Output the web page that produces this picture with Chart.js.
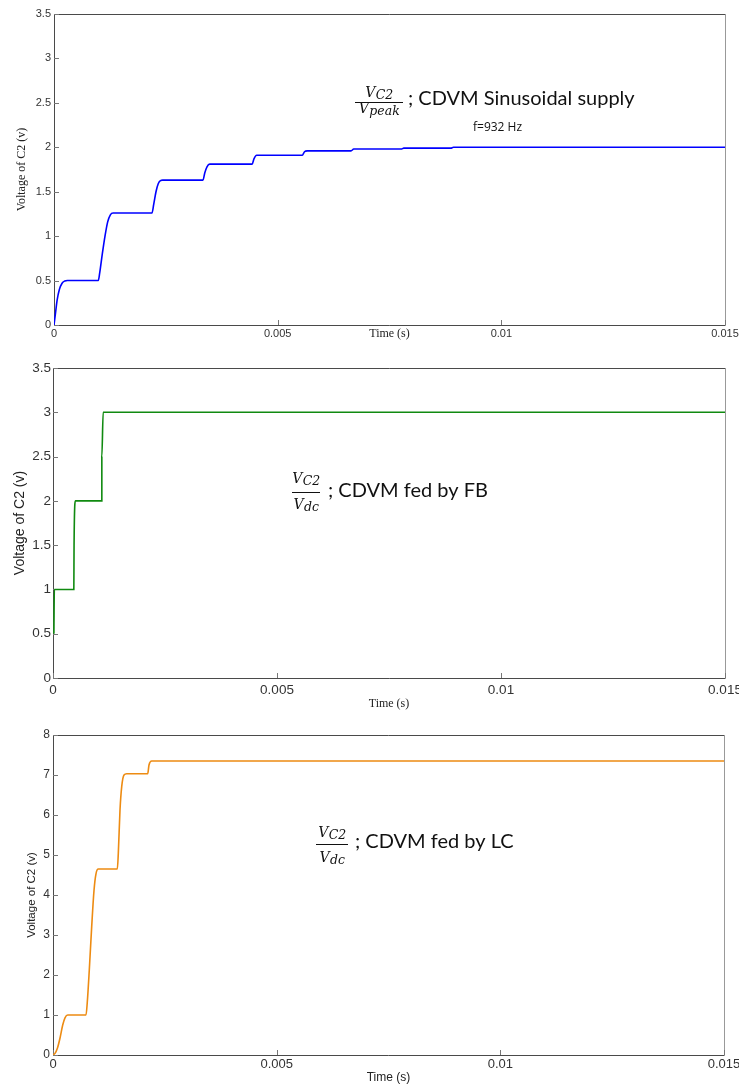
<!DOCTYPE html>
<html>
<head>
<meta charset="utf-8">
<title>CDVM capacitor voltage</title>
<script src="https://cdn.jsdelivr.net/npm/chart.js@4/dist/chart.umd.min.js"></script>
<style>
  body { margin: 0; background: #fff; width: 739px; height: 1085px; overflow: hidden; }
  .panel { position: absolute; left: 0; }
</style>
</head>
<body>
<div class="panel" style="top:0"><canvas id="sineChart" width="739" height="340"></canvas></div>
<div class="panel" style="top:340px"><canvas id="fbChart" width="739" height="372"></canvas></div>
<div class="panel" style="top:712px"><canvas id="lcChart" width="739" height="373"></canvas></div>
<script>
// Shared time axis (seconds)
const xTicks = [0, 0.005, 0.01, 0.015];
const xTickLabels = ['0', '0.005', '0.01', '0.015'];

// Voltage ticks
const yTicksLow = [0, 0.5, 1, 1.5, 2, 2.5, 3, 3.5];
const yTickLabelsLow = ['0', '0.5', '1', '1.5', '2', '2.5', '3', '3.5'];
const yTicksLC = [0, 1, 2, 3, 4, 5, 6, 7, 8];
const yTickLabelsLC = ['0', '1', '2', '3', '4', '5', '6', '7', '8'];

// Sinusoidal supply, f = 932 Hz
const tSine = [0, 0.00003, 0.00007, 0.00012, 0.00018, 0.00024, 0.0003, 0.00099,
  0.00102, 0.00108, 0.00114, 0.0012, 0.00126, 0.00132, 0.00219,
  0.00223, 0.00228, 0.00233, 0.00238, 0.00243, 0.00333,
  0.00337, 0.00342, 0.00348, 0.00443, 0.00447, 0.00453, 0.00555,
  0.0056, 0.00566, 0.00664, 0.0067, 0.00776, 0.00782, 0.00887, 0.00893, 0.015];
const vSine = [0, 0.12, 0.28, 0.4, 0.47, 0.495, 0.5, 0.5,
  0.58, 0.8, 1.0, 1.16, 1.24, 1.26, 1.26,
  1.36, 1.5, 1.59, 1.625, 1.63, 1.63,
  1.71, 1.78, 1.81, 1.81, 1.87, 1.91, 1.91,
  1.95, 1.96, 1.96, 1.98, 1.98, 1.99, 1.99, 2.0, 2.0];

// Fed by full bridge
const tFB = [0.00002, 0.00003, 0.000465, 0.00047, 0.0005, 0.00109, 0.00109, 0.00112, 0.015];
const vFB = [0.5, 1, 1, 1.5, 2, 2, 2.5, 3, 3];

// Fed by LC
const tLC = [0, 0.000045, 0.000096, 0.000156, 0.000217, 0.000268, 0.000329, 0.000738,
  0.000767, 0.000811, 0.000865, 0.000917, 0.000961, 0.001013, 0.001438,
  0.00146, 0.001498, 0.001536, 0.001587, 0.001647, 0.002117,
  0.002146, 0.002206, 0.015];
const vLC = [0, 0.04, 0.16, 0.42, 0.75, 0.93, 1.0, 1.0,
  1.33, 2.12, 3.21, 4.12, 4.53, 4.65, 4.65,
  5.04, 6.13, 6.71, 7.0, 7.03, 7.03,
  7.25, 7.35, 7.35];

const toPoints = (ts, vs) => ts.map((t, i) => ({ x: t, y: vs[i] }));

// Box around the plot plus MATLAB-style inward ticks
const framePlugin = {
  id: 'frame',
  beforeDatasetsDraw(chart) {
    const { ctx, chartArea: a, scales } = chart;
    ctx.save();
    ctx.lineWidth = 1;
    ctx.strokeStyle = '#4a4a4a';
    ctx.beginPath();
    ctx.moveTo(a.right, a.top + 0.5);
    ctx.lineTo(a.left + 0.5, a.top + 0.5);
    ctx.lineTo(a.left + 0.5, a.bottom + 0.5);
    ctx.lineTo(a.right, a.bottom + 0.5);
    ctx.stroke();
    ctx.strokeStyle = '#999';
    ctx.beginPath();
    ctx.moveTo(a.right + 0.5, a.top);
    ctx.lineTo(a.right + 0.5, a.bottom + 1);
    ctx.stroke();
    ctx.strokeStyle = '#777';
    ctx.beginPath();
    scales.x.ticks.forEach(t => {
      const px = Math.round(scales.x.getPixelForValue(t.value)) + 0.5;
      ctx.moveTo(px, a.bottom);
      ctx.lineTo(px, a.bottom - 5);
    });
    scales.y.ticks.forEach(t => {
      const py = Math.round(scales.y.getPixelForValue(t.value)) + 0.5;
      ctx.moveTo(a.left, py);
      ctx.lineTo(a.left + 5, py);
    });
    ctx.stroke();
    ctx.restore();
  }
};

// Text annotations: V_C2 / V_x fraction and caption
const notesPlugin = {
  id: 'notes',
  afterDraw(chart, args, opts) {
    const ctx = chart.ctx;
    ctx.save();
    ctx.fillStyle = '#111';
    ctx.textBaseline = 'alphabetic';
    const bigV = 'italic 14px "DejaVu Serif"';
    const subV = 'italic 12.5px "DejaVu Serif"';
    (opts.items || []).forEach(it => {
      if (it.kind === 'frac') {
        const drawV = (sub, baseY) => {
          ctx.font = bigV;
          const wV = ctx.measureText('V').width;
          ctx.font = subV;
          const wS = ctx.measureText(sub).width;
          const x = (it.x1 + it.x2) / 2 - (wV + wS) / 2;
          ctx.font = bigV;
          ctx.fillText('V', x, baseY);
          ctx.font = subV;
          ctx.fillText(sub, x + wV + 0.5, baseY + 2);
        };
        drawV(it.num, it.yNum);
        drawV(it.den, it.yDen);
        ctx.fillRect(it.x1, it.yLine, it.x2 - it.x1, 1);
      } else {
        ctx.font = it.font;
        ctx.fillText(it.text, it.x, it.y);
      }
    });
    ctx.restore();
  }
};

function makeChart(id, cfg) {
  return new Chart(document.getElementById(id), {
    type: 'line',
    data: {
      datasets: [{
        data: cfg.points,
        borderColor: cfg.color,
        borderWidth: 1.6,
        pointRadius: 0,
        fill: false,
        cubicInterpolationMode: 'monotone'
      }]
    },
    options: {
      responsive: false,
      animation: false,
      devicePixelRatio: 1,
      layout: { padding: { top: cfg.top, right: cfg.right, left: 0, bottom: 0 } },
      plugins: {
        legend: { display: false },
        tooltip: { enabled: false },
        notes: { items: cfg.notes }
      },
      scales: {
        x: {
          type: 'linear',
          min: 0,
          max: 0.015,
          grid: { display: false, drawTicks: false },
          border: { display: false },
          afterBuildTicks: s => { s.ticks = xTicks.map(v => ({ value: v })); },
          afterFit: s => { s.height = cfg.xHeight; s.paddingLeft = 0; s.paddingRight = 0; },
          ticks: {
            autoSkip: false,
            maxRotation: 0,
            padding: cfg.xPad,
            color: '#333',
            font: { family: 'Liberation Sans', size: cfg.xTickSize, lineHeight: 1 },
            callback: (v, i) => xTickLabels[i]
          },
          title: {
            display: true,
            text: 'Time (s)',
            color: '#222',
            font: cfg.xTitleFont,
            padding: { top: 0, bottom: cfg.xTitlePad }
          }
        },
        y: {
          type: 'linear',
          min: 0,
          max: cfg.yMax,
          grid: { display: false, drawTicks: false },
          border: { display: false },
          afterBuildTicks: s => { s.ticks = cfg.yTicks.map(v => ({ value: v })); },
          afterFit: s => { s.width = cfg.yWidth; s.paddingTop = 0; s.paddingBottom = 0; },
          ticks: {
            autoSkip: false,
            padding: cfg.yPad,
            color: '#333',
            font: { family: 'Liberation Sans', size: cfg.yTickSize },
            callback: (v, i) => cfg.yLabels[i]
          },
          title: {
            display: true,
            text: 'Voltage of C2 (v)',
            color: '#222',
            font: cfg.yTitleFont,
            padding: { top: cfg.yTitlePad, bottom: 0 }
          }
        }
      }
    },
    plugins: [framePlugin, notesPlugin]
  });
}

const captionFont = '20px Lato';

makeChart('sineChart', {
  points: toPoints(tSine, vSine),
  color: '#0000ff',
  top: 14, right: 14, xHeight: 15, yWidth: 54,
  yMax: 3.5, yTicks: yTicksLow, yLabels: yTickLabelsLow,
  xPad: 3, yPad: 3, xTickSize: 11, yTickSize: 11,
  xTitleFont: { family: 'Liberation Serif', size: 12, lineHeight: 1 }, xTitlePad: 0,
  yTitleFont: { family: 'Liberation Serif', size: 12, lineHeight: 1.2 }, yTitlePad: 15,
  notes: [
    { kind: 'frac', x1: 355, x2: 403, yNum: 97, yLine: 102, yDen: 113, num: 'C2', den: 'peak' },
    { kind: 'text', text: '; CDVM Sinusoidal supply', x: 408, y: 105, font: captionFont },
    { kind: 'text', text: 'f=932 Hz', x: 473, y: 131, font: '12px "Open Sans"' }
  ]
});

makeChart('fbChart', {
  points: toPoints(tFB, vFB),
  color: '#108a10',
  top: 28, right: 14, xHeight: 34, yWidth: 53,
  yMax: 3.5, yTicks: yTicksLow, yLabels: yTickLabelsLow,
  xPad: 6, yPad: 2, xTickSize: 13.5, yTickSize: 13.5,
  xTitleFont: { family: 'Liberation Serif', size: 12, lineHeight: 1.2 }, xTitlePad: 1,
  yTitleFont: { family: 'Liberation Sans', size: 14, lineHeight: 1.2 }, yTitlePad: 12,
  notes: [
    { kind: 'frac', x1: 292, x2: 320, yNum: 143, yLine: 152, yDen: 169, num: 'C2', den: 'dc' },
    { kind: 'text', text: '; CDVM fed by FB', x: 328, y: 157, font: captionFont }
  ]
});

makeChart('lcChart', {
  points: toPoints(tLC, vLC),
  color: '#ed8b12',
  top: 23, right: 15, xHeight: 30, yWidth: 53,
  yMax: 8, yTicks: yTicksLC, yLabels: yTickLabelsLC,
  xPad: 3, yPad: 3, xTickSize: 13, yTickSize: 12,
  xTitleFont: { family: 'Liberation Sans', size: 12, lineHeight: 1.2 }, xTitlePad: 0,
  yTitleFont: { family: 'Liberation Sans', size: 11.5, lineHeight: 1.2 }, yTitlePad: 25,
  notes: [
    { kind: 'frac', x1: 316, x2: 348, yNum: 125, yLine: 132, yDen: 150, num: 'C2', den: 'dc' },
    { kind: 'text', text: '; CDVM fed by LC', x: 355, y: 136, font: captionFont }
  ]
});
</script>
</body>
</html>
